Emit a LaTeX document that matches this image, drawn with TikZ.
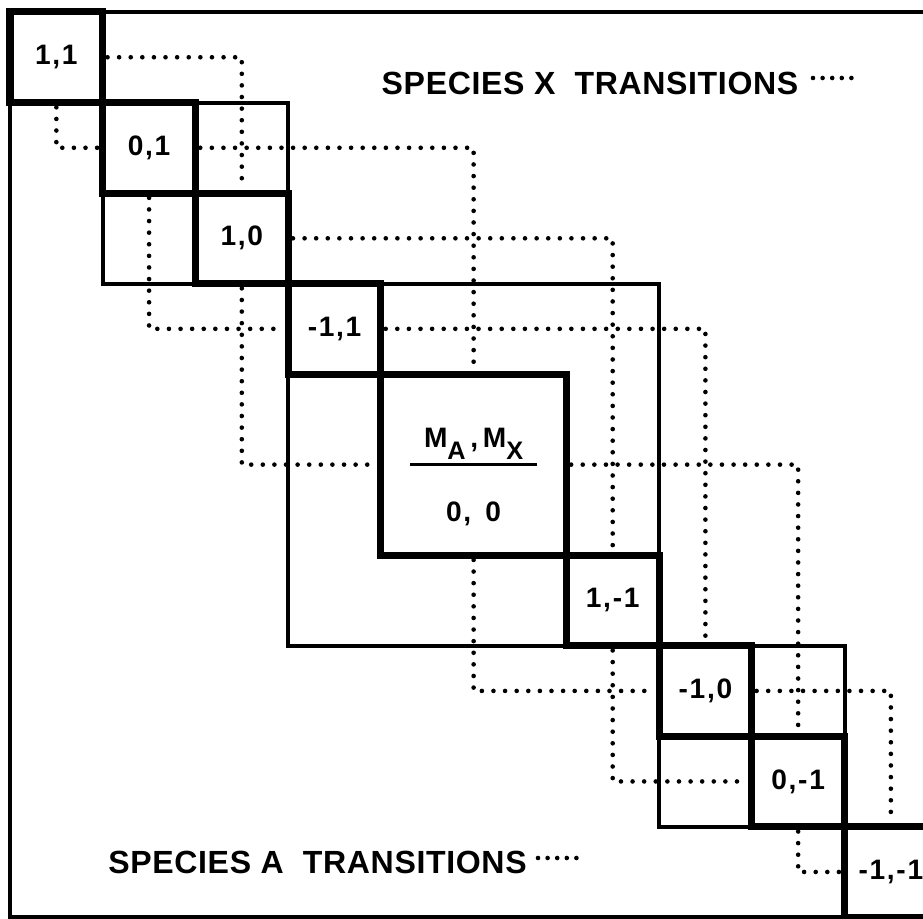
\documentclass[tikz,border=0pt]{standalone}
\usepackage{fontspec}
\setmainfont{Liberation Sans}
\newfontfamily\boxfont[LetterSpace=6]{Liberation Sans Bold}
\newfontfamily\titlefont[LetterSpace=2]{Liberation Sans Bold}
\usetikzlibrary{positioning,fit,backgrounds}

\begin{document}
\begin{tikzpicture}[
    x=0.025cm, y=-0.025cm,
    blk/.style={draw, line width=0.175cm, outer sep=0pt, inner sep=0pt, minimum width=2.3175cm, minimum height=2.2625cm, font=\boxfont\fontsize{20}{24}\selectfont},
    bigblk/.style={blk, minimum width=4.635cm, minimum height=4.525cm},
    grp/.style={draw, line width=0.1cm, inner sep=0pt},
    frm/.style={draw, line width=0.11cm, inner sep=0pt},
    trans/.style={line width=0.115cm, line cap=round, dash pattern=on 0pt off 0.29cm, shorten <=0.12cm, shorten >=0.12cm},
    legdots/.style={trans, dash pattern=on 0pt off 0.24cm, shorten <=0pt, shorten >=0pt},
    lbl/.style={font=\titlefont\fontsize{22.8}{26}\selectfont, inner sep=0pt},
    mlbl/.style={font=\boxfont\fontsize{20}{24}\selectfont, inner sep=0pt},
]
\newcommand\lowsub[1]{\raisebox{-0.3cm}{\fontsize{18}{20}\selectfont #1}}
\useasboundingbox (0,0) rectangle (923,919);
\clip (0,0) rectangle (923,919);

% states down the diagonal
\node[blk, anchor=north west] (b1) at (10,12) {1,1};
\node[blk, anchor=north west] (b2) at (b1.south east) {0,1};
\node[blk, anchor=north west] (b3) at (b2.south east) {1,0};
\node[blk, anchor=north west] (b4) at (b3.south east) {-1,1};
\node[bigblk, anchor=north west] (b5) at (b4.south east) {};
\node[blk, anchor=north west] (b6) at (b5.south east) {1,-1};
\node[blk, anchor=north west] (b7) at (b6.south east) {-1,0};
\node[blk, anchor=north west] (b8) at (b7.south east) {0,-1};
\node[blk, anchor=north west] (b9) at (b8.south east) {-1,-1};

% centre state
\node[mlbl] (mnum) at ([yshift=0.51cm]b5.center) {M\lowsub{A}\,,\,M\lowsub{X}};
\node[mlbl] (mden) at ([yshift=-1.24cm]b5.center) {0,\enspace 0};
\draw[line width=0.075cm] ([xshift=-1.58cm]b5.center) -- ([xshift=1.58cm]b5.center);

% groups of equal sum
\begin{scope}[on background layer]
\node[grp, fit=(b2)(b3)] (g1) {};
\node[grp, fit=(b4)(b6)] (g0) {};
\node[grp, fit=(b7)(b8)] (gm1) {};
\node[frm, fit=(b1)(b9)] (frame) {};
\end{scope}

% species X transitions
\draw[trans] (b1.east) -| (b3.north);
\draw[trans] (b2.east) -| (b5.north);
\draw[trans] (b3.east) -| (b6.north);
\draw[trans] (b4.east) -| (b7.north);
\draw[trans] (b5.east) -| (b8.north);
\draw[trans] (b7.east) -| (b9.north);

% species A transitions
\draw[trans] (b1.south) |- (b2.west);
\draw[trans] (b2.south) |- (b4.west);
\draw[trans] (b3.south) |- (b5.west);
\draw[trans] (b5.south) |- (b7.west);
\draw[trans] (b6.south) |- (b8.west);
\draw[trans] (b8.south) |- (b9.west);

% legends
\node[lbl] (xlbl) at (590,83.5) {SPECIES X\ \ TRANSITIONS};
\node[lbl] (albl) at (317.5,862.5) {SPECIES A\ \ TRANSITIONS};
\coordinate (xd1) at (813,78);
\coordinate (xd2) at (852,78);
\coordinate (ad1) at (538,858);
\coordinate (ad2) at (577,858);
\draw[legdots] (xd1) -- (xd2);
\draw[legdots] (ad1) -- (ad2);
\end{tikzpicture}
\end{document}
